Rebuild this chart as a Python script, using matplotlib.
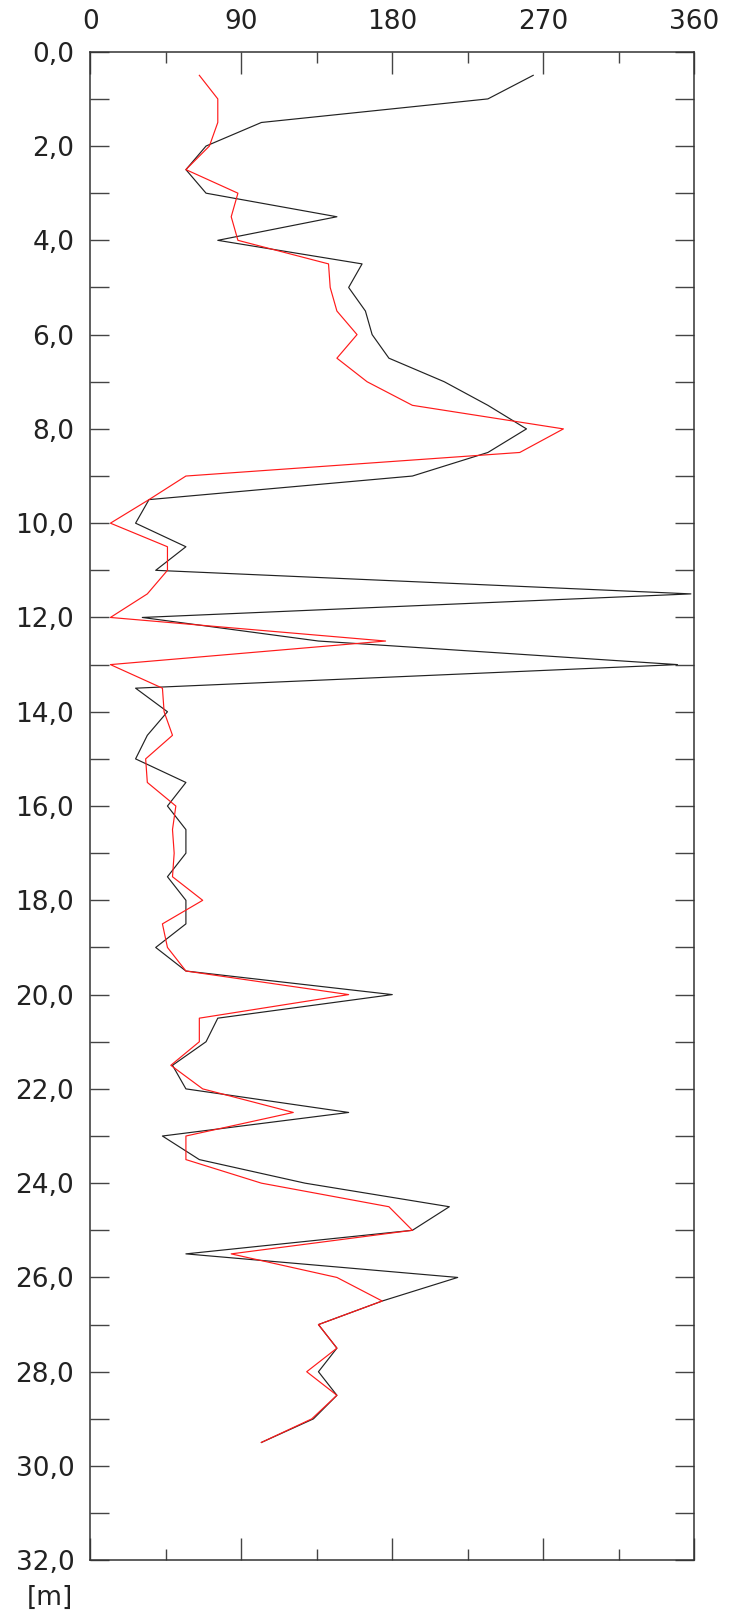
import matplotlib
matplotlib.use("Agg")
import matplotlib.pyplot as plt
from matplotlib.ticker import MultipleLocator, FixedLocator

plt.rcParams['font.family'] = ['DejaVu Sans']

depth = [0.5, 1.0, 1.5, 2.0, 2.5, 3.0, 3.5, 4.0, 4.5, 5.0, 5.5, 6.0, 6.5,
         7.0, 7.5, 8.0, 8.5, 9.0, 9.5, 10.0, 10.5, 11.0, 11.5, 12.0, 12.5, 13.0,
         13.5, 14.0, 14.5, 15.0, 15.5, 16.0, 16.5, 17.0, 17.5, 18.0, 18.5, 19.0,
         19.5, 20.0, 20.5, 21.0, 21.5, 22.0, 22.5, 23.0, 23.5, 24.0, 24.5, 25.0,
         25.5, 26.0, 26.5, 27.0, 27.5, 28.0, 28.5, 29.0, 29.5]

black_values = [264, 237, 102, 69, 57, 69, 147, 76, 162, 154, 164, 168, 178,
                211, 237, 260, 237, 192, 35, 27, 57, 39, 358, 31, 136, 350,
                27, 46, 34, 27, 57, 46, 57, 57, 46, 57, 57, 39,
                57, 180, 76, 69, 49, 57, 154, 43, 65, 128, 214, 192,
                57, 219, 174, 136, 147, 136, 147, 133, 102]

red_values = [65, 76, 76, 71, 57, 88, 84, 88, 142, 143, 147, 159, 147,
              165, 192, 282, 256, 57, 35, 12, 46, 46, 34, 12, 176, 12,
              43, 44, 49, 33, 34, 51, 49, 50, 49, 67, 43, 46,
              57, 154, 65, 65, 48, 67, 121, 57, 57, 102, 178, 192,
              84, 147, 174, 136, 147, 129, 147, 132, 102]

x_ticks = [0, 90, 180, 270, 360]
y_ticks = [0, 2, 4, 6, 8, 10, 12, 14, 16, 18, 20, 22, 24, 26, 28, 30, 32]
y_tick_labels = ["0,0", "2,0", "4,0", "6,0", "8,0", "10,0", "12,0", "14,0",
                 "16,0", "18,0", "20,0", "22,0", "24,0", "26,0", "28,0",
                 "30,0", "32,0"]
unit_label = "[m]"

fig = plt.figure(figsize=(7.37, 16.16), dpi=100)
ax = fig.add_axes([0.1225, 0.03447, 0.8195, 0.9335])

ax.plot(black_values, depth, color='#222222', lw=0.85, zorder=2)
ax.plot(red_values, depth, color='#ff1a1a', lw=0.85, zorder=3)

ax.set_xlim(0, 360)
ax.set_ylim(32, 0)

ax.xaxis.set_major_locator(FixedLocator(x_ticks))
ax.xaxis.set_minor_locator(MultipleLocator(45))
ax.yaxis.set_major_locator(FixedLocator(y_ticks))
ax.set_yticklabels(y_tick_labels)
ax.yaxis.set_minor_locator(MultipleLocator(1))

ax.xaxis.tick_top()
ax.tick_params(axis='x', which='both', direction='in', top=True, bottom=True,
               labeltop=True, labelbottom=False, color='#444444')
ax.tick_params(axis='x', which='major', length=15.8, width=1.0, pad=12, labelsize=19, labelcolor='#222222')
ax.tick_params(axis='x', which='minor', length=7.9, width=1.0)
ax.tick_params(axis='y', which='both', direction='in', left=True, right=True,
               length=13.7, width=1.0, color='#444444')
ax.tick_params(axis='y', which='major', pad=11.5, labelsize=19, labelcolor='#222222')

for s in ax.spines.values():
    s.set_color('#333333')
    s.set_linewidth(1.1)

fig.text(49.5 / 737, 1 - 1598 / 1616, unit_label, fontsize=19, color='#222222',
         ha='center', va='center')

fig.savefig("out.png", dpi=100)
